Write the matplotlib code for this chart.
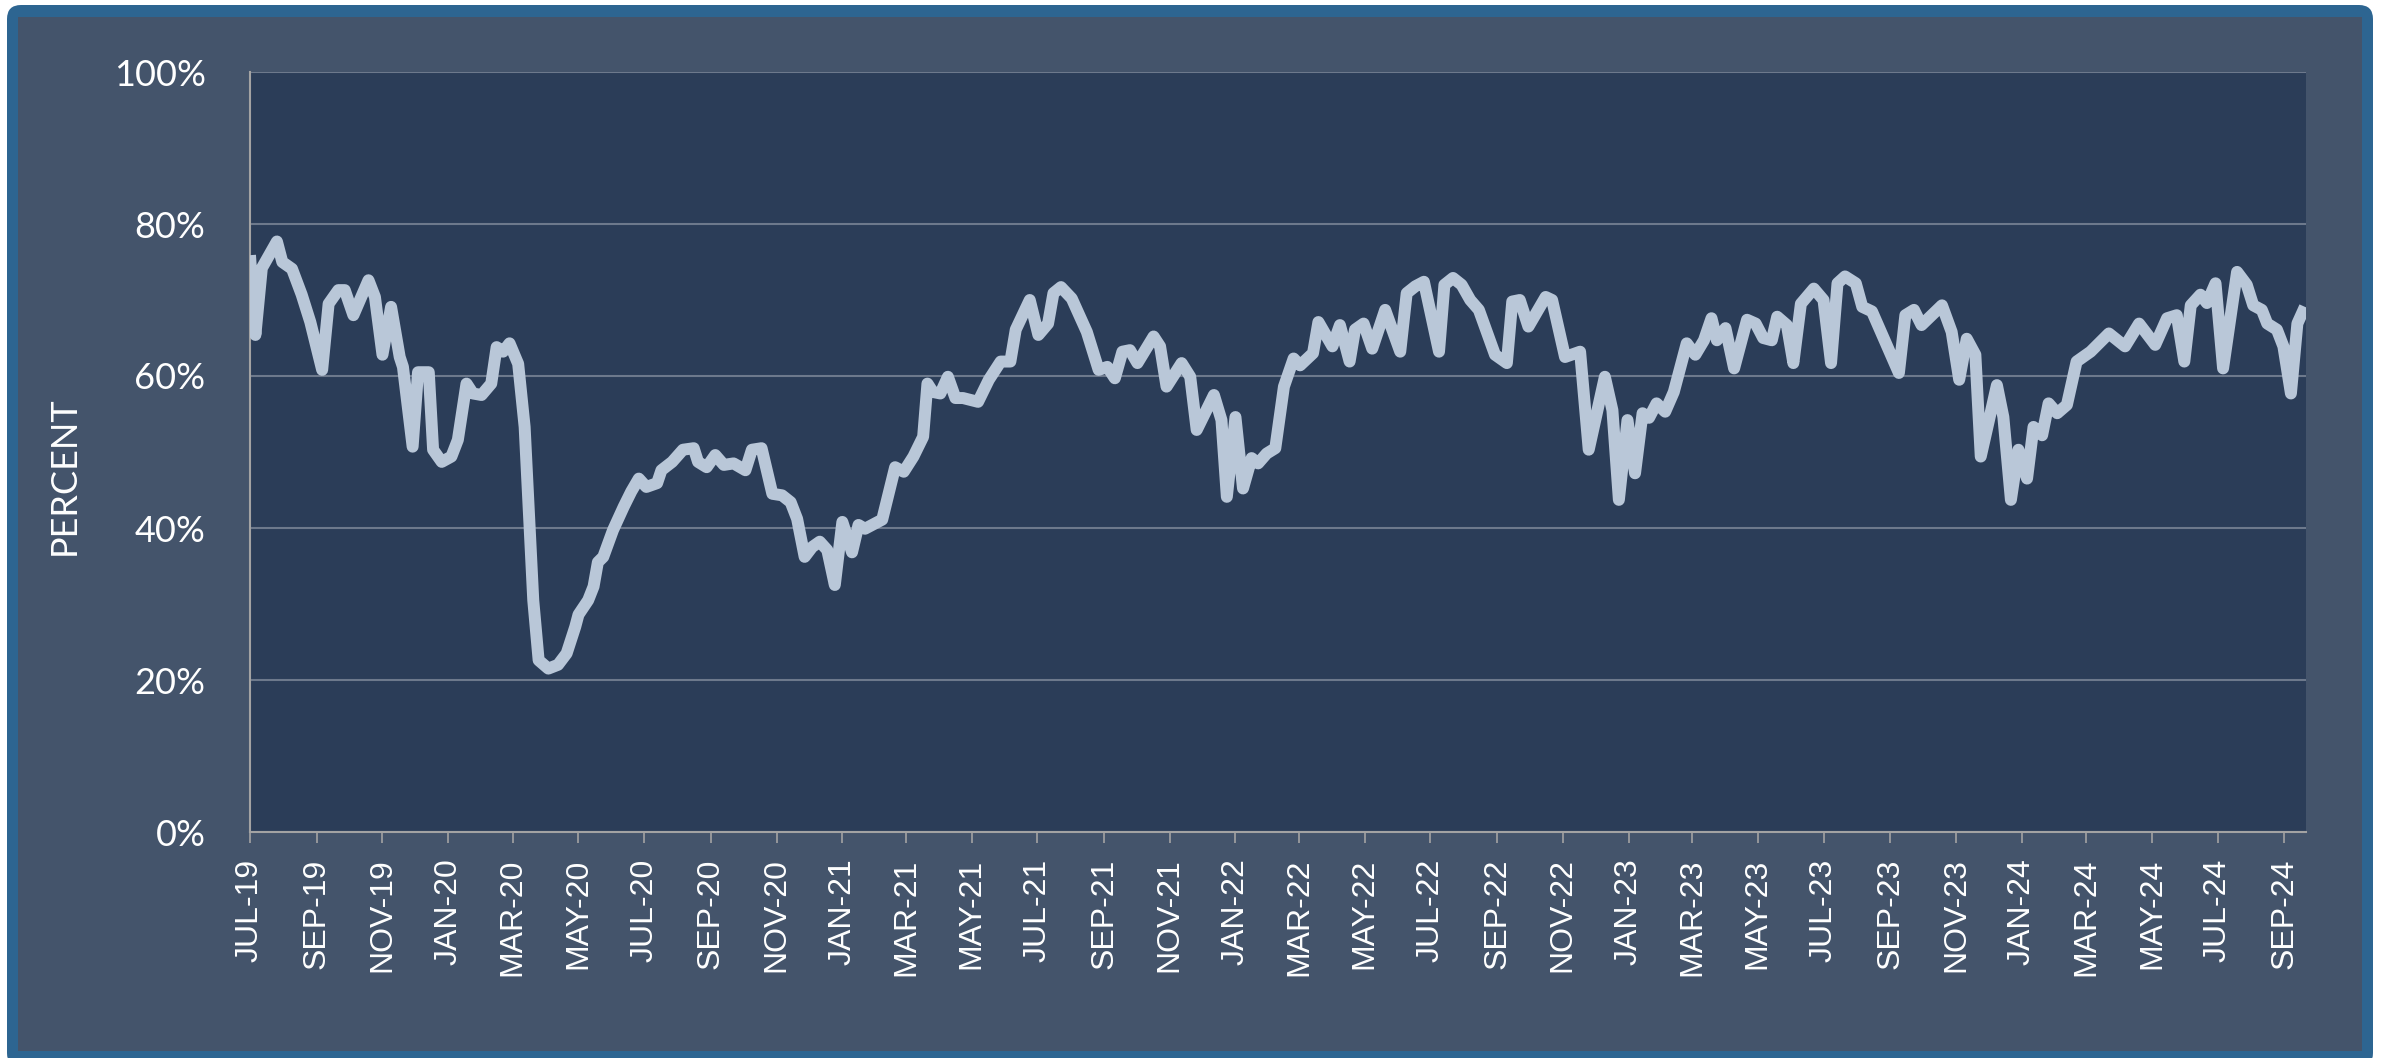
import datetime as dt
import numpy as np
import matplotlib
matplotlib.use("Agg")
import matplotlib.pyplot as plt
import matplotlib.dates as mdates
from matplotlib.patches import FancyBboxPatch, Rectangle

# series start and day offsets of each vertex, with the percent value
START = dt.date(2019, 7, 1)
END_DAY = 1909

days = [
    0, 5, 11, 25, 30, 39, 48, 56, 67, 73, 82, 88, 96, 110, 116, 123, 131, 139, 142, 151,
    156, 166, 170, 178, 187, 193, 201, 207, 215, 224, 229, 235, 241, 249, 255, 263, 268, 277, 286, 294,
    302, 305, 314, 319, 323, 328, 337, 347, 354, 361, 368, 378, 382, 392, 402, 412, 416, 424, 432, 440,
    449, 460, 466, 475, 485, 494, 502, 508, 515, 522, 529, 536, 543, 550, 559, 565, 571, 587, 599, 607,
    616, 625, 629, 634, 641, 648, 655, 662, 676, 686, 697, 706, 711, 724, 732, 741, 746, 753, 763, 777,
    788, 796, 803, 810, 817, 824, 839, 845, 851, 865, 873, 879, 895, 902, 907, 915, 922, 930, 936, 944,
    952, 960, 969, 975, 987, 992, 1005, 1012, 1021, 1026, 1034, 1042, 1054, 1068, 1074, 1082, 1090, 1104, 1109, 1117,
    1125, 1133, 1141, 1156, 1167, 1172, 1179, 1187, 1203, 1209, 1221, 1235, 1243, 1258, 1265, 1271, 1279, 1286, 1293, 1299,
    1306, 1314, 1322, 1334, 1342, 1350, 1357, 1362, 1370, 1378, 1390, 1398, 1405, 1413, 1418, 1427, 1433, 1440, 1452, 1461,
    1468, 1474, 1481, 1491, 1497, 1506, 1531, 1537, 1545, 1552, 1571, 1580, 1587, 1594, 1602, 1607, 1622, 1628, 1635, 1642,
    1650, 1656, 1664, 1670, 1678, 1687, 1696, 1709, 1726, 1741, 1754, 1769, 1780, 1789, 1796, 1802, 1811, 1817, 1825, 1832,
    1845, 1854, 1860, 1868, 1873, 1882, 1888, 1895, 1901, 1908,
]
percent = [
    75.9, 65.4, 74.2, 77.7, 75.0, 74.1, 70.7, 67.1, 60.8, 69.5, 71.3, 71.3, 68.0, 72.6, 70.4, 62.8, 69.1, 62.5, 61.2, 50.7,
    60.5, 60.5, 50.3, 48.7, 49.4, 51.6, 59.0, 57.7, 57.5, 59.0, 63.8, 63.2, 64.3, 61.6, 53.3, 30.5, 22.6, 21.5, 22.0, 23.5,
    27.0, 28.6, 30.5, 32.3, 35.5, 36.2, 39.7, 42.8, 44.8, 46.5, 45.4, 45.9, 47.6, 48.7, 50.3, 50.5, 48.7, 48.0, 49.6, 48.3,
    48.5, 47.6, 50.3, 50.5, 44.5, 44.3, 43.4, 41.2, 36.2, 37.5, 38.2, 37.1, 32.5, 40.8, 36.8, 40.4, 39.9, 41.1, 48.0, 47.4,
    49.4, 52.0, 59.0, 57.9, 57.7, 59.9, 57.1, 57.1, 56.6, 59.5, 61.9, 61.9, 66.1, 70.0, 65.4, 66.9, 70.9, 71.7, 70.2, 65.8,
    60.8, 61.2, 59.7, 63.2, 63.4, 61.7, 65.2, 63.9, 58.6, 61.7, 59.9, 52.9, 57.5, 54.2, 44.1, 54.6, 45.2, 49.2, 48.5, 49.8,
    50.5, 58.6, 62.3, 61.4, 63.0, 67.1, 63.9, 66.7, 61.9, 66.1, 66.9, 63.6, 68.7, 63.2, 70.9, 71.8, 72.4, 63.2, 72.0, 72.9,
    72.0, 70.0, 68.7, 62.8, 61.7, 69.8, 70.0, 66.5, 70.4, 70.0, 62.5, 63.2, 50.3, 59.9, 55.5, 43.7, 54.2, 47.2, 55.1, 54.5,
    56.4, 55.3, 57.9, 64.3, 62.8, 64.7, 67.6, 64.7, 66.3, 61.0, 67.4, 66.9, 65.0, 64.7, 67.8, 66.7, 61.7, 69.5, 71.5, 70.0,
    61.7, 72.2, 73.1, 72.2, 69.1, 68.5, 60.4, 68.0, 68.7, 66.7, 69.3, 65.8, 59.5, 64.9, 62.8, 49.4, 58.8, 54.6, 43.7, 50.3,
    46.5, 53.3, 52.2, 56.4, 55.1, 56.2, 61.9, 63.2, 65.6, 63.9, 66.9, 64.1, 67.6, 68.0, 61.9, 69.3, 70.7, 69.6, 72.2, 61.0,
    73.7, 72.0, 69.3, 68.7, 66.9, 66.1, 63.9, 57.7, 66.9, 69.1,
]
y_ticks = [0, 20, 40, 60, 80, 100]
y_label = "PERCENT"

BORDER = "#2d6591"
PANEL = "#44546b"
PLOT_BG = "#2b3d58"
LINE = "#b9c7d8"
GRID = "#6d798c"
SPINE = "#a3a3a3"

W, H = 2387, 1058
fig = plt.figure(figsize=(W / 100, H / 100), dpi=100, facecolor="white")

# background frame drawn in pixel units
bg = fig.add_axes([0, 0, 1, 1], zorder=0)
bg.set_xlim(0, W)
bg.set_ylim(H, 0)
bg.axis("off")
bg.add_patch(FancyBboxPatch((7, 5), 2366, 1062, boxstyle="round,pad=0,rounding_size=14",
                            fc=BORDER, ec="none"))
bg.add_patch(Rectangle((18, 17), 2344, 1034, fc=PANEL, ec="none"))

ax = fig.add_axes([250 / W, 1 - 832 / H, 2056 / W, 760 / H], zorder=1)
ax.set_facecolor(PLOT_BG)

x = [START + dt.timedelta(days=d) for d in days]
ax.plot(x, percent, color=LINE, lw=8.6, solid_joinstyle="round", solid_capstyle="butt", zorder=3)

ax.set_xlim(START, START + dt.timedelta(days=END_DAY))
ax.set_ylim(0, 100)

ax.set_yticks(y_ticks)
ax.set_yticklabels([f"{v}%" for v in y_ticks], fontfamily="Lato", fontsize=26, color="white")
ax.tick_params(axis="y", length=0, pad=32)
ax.grid(axis="y", color=GRID, lw=1.5, zorder=1)
ax.set_axisbelow(True)

ax.xaxis.set_major_locator(mdates.MonthLocator(bymonth=[1, 3, 5, 7, 9, 11]))
ax.xaxis.set_major_formatter(mdates.DateFormatter("%b-%y"))
ax.tick_params(axis="x", direction="out", length=8, width=1.2, color=SPINE, pad=11,
               labelsize=23, labelcolor="white", labelrotation=90)
fig.canvas.draw()
ax.set_xticklabels([t.get_text().upper() for t in ax.get_xticklabels()],
                   fontfamily="Liberation Sans")

for side in ("top", "right"):
    ax.spines[side].set_visible(False)
for side in ("left", "bottom"):
    ax.spines[side].set_color(SPINE)
    ax.spines[side].set_linewidth(1.5)

fig.text(64 / W, 1 - 476 / H, y_label, rotation=90, ha="center", va="center",
         fontfamily="Lato", fontsize=26, color="white")

fig.savefig("out.png", dpi=100, facecolor="white")
